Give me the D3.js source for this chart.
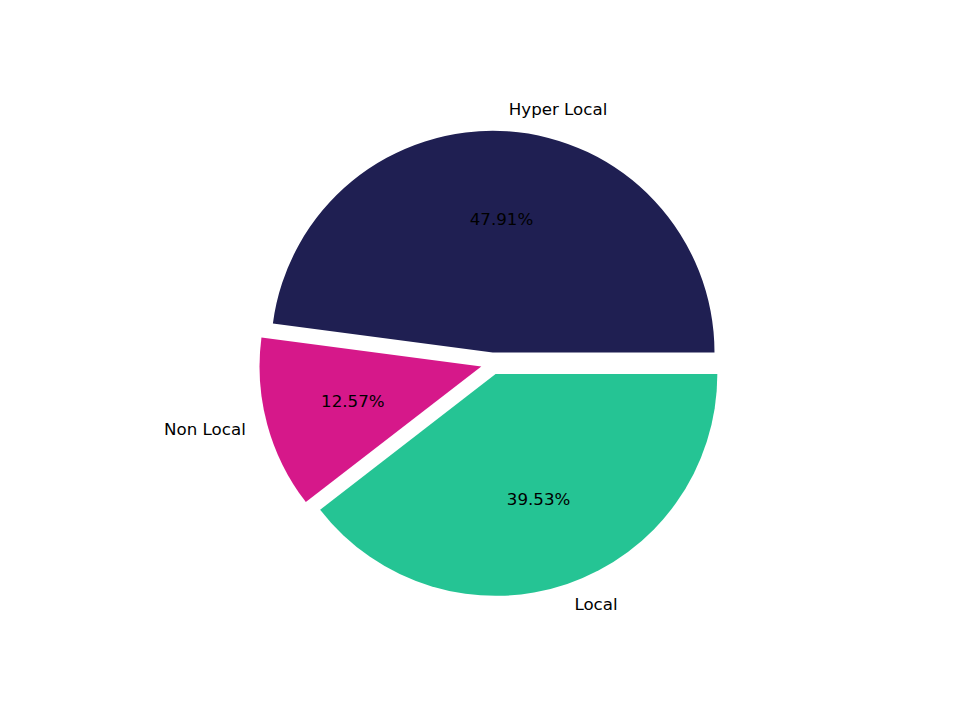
<!DOCTYPE html>
<html><head><meta charset="utf-8">
<script src="https://cdn.jsdelivr.net/npm/d3@7"></script>
<style>body{margin:0;background:#fff}</style>
</head><body>
<svg id="chart" width="960" height="720"></svg>
<script>
const categories = ["Hyper Local", "Non Local", "Local"];
const values = [47.91, 12.57, 39.53];
const colors = ["#1f1f52", "#d6188a", "#25c494"];
const explode = [0.05, 0.05, 0.05];

const W = 960, H = 720;
const axL = 0.125 * W, axR = 0.9 * W, axT = (1 - 0.88) * H, axB = (1 - 0.11) * H;
const cx = (axL + axR) / 2, cy = (axT + axB) / 2;
const unit = (axB - axT) / 2.5; // limits -1.25..1.25
const R = unit;

const svg = d3.select("#chart");
const pie = d3.pie().sort(null).value(d => d)
  .startAngle(Math.PI / 2).endAngle(Math.PI / 2 - 2 * Math.PI);
const arcs = pie(values);
const arc = d3.arc().innerRadius(0).outerRadius(R);
const total = d3.sum(values);

const font = "DejaVu Sans, sans-serif";
const fs = "16.67px";
arcs.forEach((a, i) => {
  const mid = (a.startAngle + a.endAngle) / 2;
  const dx = Math.sin(mid), dy = -Math.cos(mid);
  const ox = cx + dx * explode[i] * unit, oy = cy + dy * explode[i] * unit;
  const g = svg.append("g").attr("transform", `translate(${ox},${oy})`);
  g.append("path").attr("d", arc(a)).attr("fill", colors[i]);
  g.append("text")
    .attr("x", dx * 1.1 * unit).attr("y", dy * 1.1 * unit)
    .attr("text-anchor", dx > 0 ? "start" : "end")
    .attr("dominant-baseline", "central")
    .attr("font-family", font).attr("font-size", fs).attr("fill", "#000")
    .text(categories[i]);
  g.append("text")
    .attr("x", dx * 0.6 * unit).attr("y", dy * 0.6 * unit)
    .attr("text-anchor", "middle")
    .attr("dominant-baseline", "central")
    .attr("font-family", font).attr("font-size", fs).attr("fill", "#000")
    .text((values[i] / total * 100).toFixed(2) + "%");
});
</script>
</body></html>
